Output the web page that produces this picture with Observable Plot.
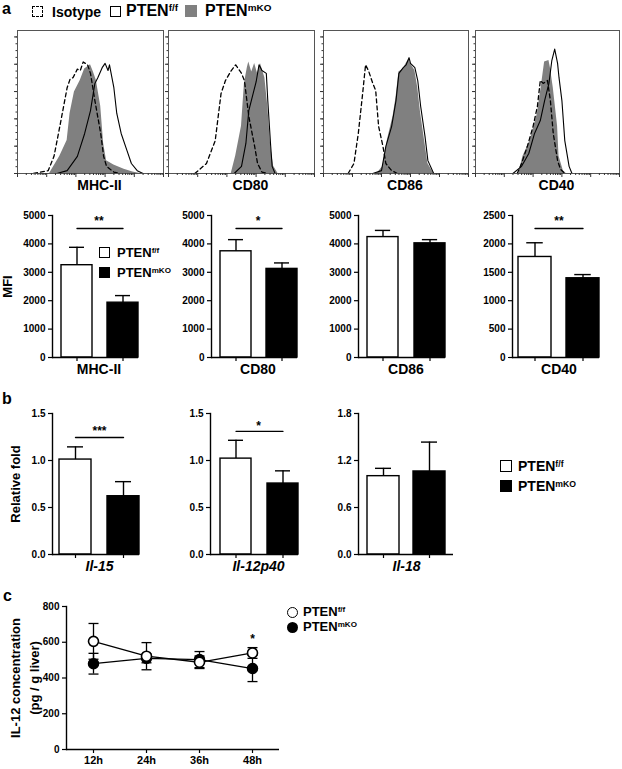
<!DOCTYPE html>
<html><head><meta charset="utf-8">
<script src="https://cdn.jsdelivr.net/npm/d3@7"></script>
<script src="https://cdn.jsdelivr.net/npm/@observablehq/plot@0.6"></script>
<style>
body{margin:0;background:#fff;}
#fig{position:relative;width:622px;height:769px;overflow:hidden;font-family:"Liberation Sans",Arial,Helvetica,sans-serif;font-weight:bold;color:#000;background:#fff;}
.t{position:absolute;white-space:nowrap;line-height:16px;}
.t sup{font-size:0.62em;vertical-align:0.5em;line-height:0;}
.box{position:absolute;box-sizing:border-box;}
</style></head>
<body><div id="fig"></div>
<script>
// ---------- DATA ----------
const groups = ["PTENf/f", "PTENmKO"];

// flow histograms: [position % of axis, height % of panel]
const mhcIso = [[11,0],[21,2],[25,12],[29,33],[34,60],[36,66],[38,67],[41,73],[43,72],[45,78],[48,76],[50,70],[53,51],[57,28],[59,12],[61,5],[66,1],[70,0]];
const mhcFF  = [[27,0],[34,2],[41,12],[46,28],[50,44],[53,63],[55,67],[58,74],[60,77],[62,72],[63,76],[66,60],[68,42],[71,28],[75,16],[78,7],[82,2],[86,0]];
const mhcKO  = [[22,0],[29,12],[34,23],[36,42],[39,57],[43,65],[46,73],[50,76],[52,71],[54,65],[57,47],[59,21],[61,9],[66,6],[73,3],[79,1],[84,0]];
const cd80Iso = [[18,0],[26,7],[32,23],[36,56],[39,65],[43,72],[46,76],[50,70],[52,65],[55,40],[59,19],[61,7],[64,1],[68,0]];
const cd80FF  = [[45,0],[50,5],[53,21],[55,44],[58,56],[60,64],[62,76],[64,72],[67,70],[68,51],[70,19],[71,5],[73,0]];
const cd80KO  = [[43,0],[46,12],[50,33],[52,63],[54,74],[55,78],[57,71],[59,77],[61,70],[63,77],[66,67],[68,47],[70,19],[72,5],[75,0]];
const cd86Iso = [[17,0],[21,7],[24,28],[27,56],[29,76],[31,72],[34,63],[36,58],[38,33],[41,19],[43,7],[47,2],[51,0]];
const cd86FF  = [[34,0],[40,2],[43,19],[47,33],[50,51],[52,70],[55,74],[57,76],[59,81],[60,77],[63,74],[65,65],[67,47],[70,26],[72,9],[76,0]];
const cd86KO  = [[37,0],[41,5],[44,23],[48,40],[50,53],[52,71],[55,73],[57,77],[59,80],[60,77],[63,72],[65,60],[67,42],[70,21],[72,7],[76,0]];
const cd40Iso = [[29,0],[32,7],[36,19],[40,33],[43,47],[45,65],[47,63],[50,65],[52,51],[54,28],[57,9],[59,3],[62,0]];
const cd40FF  = [[26,0],[32,5],[37,14],[41,28],[45,37],[48,51],[51,63],[53,79],[55,87],[57,77],[58,67],[60,51],[62,23],[65,5],[67,0]];
const cd40KO  = [[30,0],[33,12],[38,23],[43,42],[46,63],[48,78],[51,79],[52,74],[54,60],[57,33],[58,12],[61,2],[63,0]];

// panel a bars (MFI)
const mfiMarkers = ["MHC-II", "CD80", "CD86", "CD40"];
const mfiFF    = [3250, 3740, 4240, 1770];
const mfiFFErr = [630, 410, 235, 250];
const mfiKO    = [1930, 3120, 4020, 1395];
const mfiKOErr = [250, 210, 130, 65];
const mfiTicks = [[0,1000,2000,3000,4000,5000],[0,1000,2000,3000,4000,5000],[0,1000,2000,3000,4000,5000],[0,500,1000,1500,2000,2500]];
const mfiSig   = ["**", "*", "", "**"];
const mfiSigY  = [4540, 4540, 0, 2270];

// panel b bars (relative fold)
const genes      = ["Il-15", "Il-12p40", "Il-18"];
const foldFF     = [1.01, 1.02, 1.00];
const foldFFErr  = [0.135, 0.195, 0.10];
const foldKO     = [0.62, 0.755, 1.06];
const foldKOErr  = [0.155, 0.135, 0.375];
const foldTicks  = [[0,0.5,1.0,1.5],[0,0.5,1.0,1.5],[0,0.6,1.2,1.8]];
const foldSig    = ["***", "*", ""];
const foldSigY   = [1.245, 1.31, 0];

// panel c time course
const times      = ["12h", "24h", "36h", "48h"];
const il12FF     = [605, 522, 488, 540];
const il12FFErr  = [100, 76, 35, 30];
const il12KO     = [480, 510, 503, 453];
const il12KOErr  = [58, 25, 45, 73];
const il12Ticks  = [0, 200, 400, 600, 800];
const il12Sig    = [{t: "48h", y: 620, s: "*"}];

// ---------- RENDER ----------
const FONT = '"Liberation Sans", Arial, Helvetica, sans-serif';
const GRAY = "#808080";
const fig = document.getElementById("fig");
function put(node, left, top) {
  node.style.position = "absolute";
  node.style.left = left + "px";
  node.style.top = top + "px";
  fig.appendChild(node);
  return node;
}
function html(str, left, top, css = "") {
  const d = document.createElement("div");
  d.className = "t";
  d.innerHTML = str;
  d.style.cssText += css;
  return put(d, left, top);
}
function box(left, top, w, h, css) {
  const d = document.createElement("div");
  d.className = "box";
  d.style.width = w + "px"; d.style.height = h + "px";
  d.style.cssText += css;
  return put(d, left, top);
}
const baseStyle = {fontFamily: FONT, fontWeight: "bold", fontSize: "10px", overflow: "visible", background: "transparent"};
const xy = {x: d => d[0], y: d => d[1]};

// histogram axes ticks (log decades)
const logMajor = d3.range(0, 6).map(k => 20 * k);
const logMinor = d3.range(0, 5).flatMap(k => d3.range(2, 10).map(m => 20 * (k + Math.log10(m))));
const yMajor = d3.range(0, 100, 19.1);
const yMinor = d3.range(0, 100, 19.1 / 4);

function histo(iso, ff, ko, label, frameLeft, frameWidth) {
  const mL = 6, mT = 1, mB = 26, mR = 2;
  const svg = Plot.plot({
    width: frameWidth + mL + mR, height: mT + 143 + mB,
    marginLeft: mL, marginRight: mR, marginTop: mT, marginBottom: mB,
    x: {domain: [0, 100], label: null}, y: {domain: [0, 100], label: null},
    style: baseStyle,
    marks: [
      Plot.areaY(ko, {...xy, fill: GRAY}),
      Plot.lineY(ff, {...xy, stroke: "black", strokeWidth: 1.1}),
      Plot.lineY(iso, {...xy, stroke: "black", strokeWidth: 1.3, strokeDasharray: "4,3"}),
      Plot.frame({stroke: "#555", strokeWidth: 1}),
      Plot.axisX({ticks: logMajor, tickSize: 4, tickFormat: () => "", label: null, stroke: "#333"}),
      Plot.axisX({ticks: logMinor, tickSize: 2, tickFormat: () => "", label: null, stroke: "#333"}),
      Plot.axisY({ticks: yMajor, tickSize: 3, tickFormat: () => "", label: null, stroke: "#333"}),
      Plot.axisY({ticks: yMinor, tickSize: 1.5, tickFormat: () => "", label: null, stroke: "#333"}),
      Plot.text([label], {frameAnchor: "bottom", dy: 16, dx: 9, fontSize: 14, fontWeight: "bold"})
    ]
  });
  put(svg, frameLeft - mL, 30 - mT);
}

function barChart(o) {
  const W = o.x1 - o.x0;
  const mL = o.x0 - o.svgLeft, mT = 14, mR = 8, mB = 26;
  const offR = W - o.offL - 2 * o.bw - o.gap;
  const step = o.bw + o.gap;
  const align = (o.offL + offR) > 0 ? o.offL / (o.offL + offR) : 0.5;
  const data = groups.map((g, i) => ({g, v: o.vals[i], e: o.errs[i]}));
  const marks = [
    Plot.barY(data.filter(d => d.g === groups[0]), {x: "g", y: "v", fill: "white", stroke: "black", strokeWidth: 1.4}),
    Plot.barY(data.filter(d => d.g === groups[1]), {x: "g", y: "v", fill: "black", stroke: "black", strokeWidth: 1.4}),
    Plot.ruleX(data, {x: "g", y1: "v", y2: d => d.v + d.e, stroke: "black", strokeWidth: 1.4}),
    Plot.tickY(data, {x: "g", y: d => d.v + d.e, insetLeft: o.bw / 4, insetRight: o.bw / 4, stroke: "black", strokeWidth: 1.4}),
    Plot.ruleY([0], {stroke: "black", strokeWidth: 1.4}),
    Plot.frame({anchor: "left", stroke: "black", strokeWidth: 1.4}),
    Plot.axisY({ticks: o.ticks, tickSize: 4, tickPadding: 3, tickFormat: o.fmt, label: null, fontSize: 10, strokeWidth: 1.2}),
    Plot.axisX({tickSize: 4, tickFormat: () => "", label: null, strokeWidth: 1.2}),
    Plot.text([o.label], {frameAnchor: "bottom", dy: 16, dx: (o.offL - offR) / 2, fontSize: 14, fontWeight: "bold", fontStyle: o.italic ? "italic" : "normal"})
  ];
  if (o.sig) {
    marks.push(Plot.lineY(groups.map(g => ({g, y: o.sigY})), {x: "g", y: "y", stroke: "black", strokeWidth: 1.4}));
    marks.push(Plot.text([{s: o.sig, y: o.sigY}], {text: "s", y: "y", dx: (o.offL - offR) / 2, dy: o.sigDy, fontSize: 12, fontWeight: "bold"}));
  }
  if (o.ylabel) {
    marks.push(Plot.text([o.ylabel], {frameAnchor: "left", rotate: -90, dx: o.ylabelX - o.x0, textAnchor: "middle", fontSize: 13, fontWeight: "bold"}));
  }
  const svg = Plot.plot({
    width: mL + W + mR, height: mT + (o.yBot - o.yTop) + mB,
    marginLeft: mL, marginRight: mR, marginTop: mT, marginBottom: mB,
    x: {domain: groups, paddingInner: o.gap / step, paddingOuter: Math.max(0, (W - 2 * o.bw - o.gap) / (2 * step)), align, label: null},
    y: {domain: [0, o.max], label: null},
    style: baseStyle,
    marks
  });
  put(svg, o.svgLeft, o.yTop - mT);
}

// ----- panel a -----
html("a", 2, 1, "font-size:16px;");
box(32, 6, 11, 11, "border:1.5px dashed #000;");
html("Isotype", 52, 4, "font-size:14px;");
box(110, 6, 11, 11, "border:1.6px solid #000;background:#fff;");
html("PTEN<sup>f/f</sup>", 126, 3, "font-size:16px;");
box(185, 5, 12, 12, "background:" + GRAY + ";");
html("PTEN<sup>mKO</sup>", 205, 3, "font-size:16px;");

histo(mhcIso, mhcFF, mhcKO, mfiMarkers[0], 17, 146);
histo(cd80Iso, cd80FF, cd80KO, mfiMarkers[1], 168, 146);
histo(cd86Iso, cd86FF, cd86KO, mfiMarkers[2], 323, 145);
histo(cd40Iso, cd40FF, cd40KO, mfiMarkers[3], 475, 144);

const aLayout = [
  {svgLeft: 0, x0: 52, x1: 138, offL: 7, bw: 32, gap: 15},
  {svgLeft: 160, x0: 211, x1: 297, offL: 7, bw: 32, gap: 15},
  {svgLeft: 310, x0: 358, x1: 445, offL: 8, bw: 31.5, gap: 16},
  {svgLeft: 465, x0: 512, x1: 599, offL: 6, bw: 33, gap: 15}
];
mfiMarkers.forEach((m, i) => barChart({
  ...aLayout[i], yTop: 215, yBot: 357,
  max: mfiTicks[i][mfiTicks[i].length - 1], ticks: mfiTicks[i], fmt: d => String(d),
  vals: [mfiFF[i], mfiKO[i]], errs: [mfiFFErr[i], mfiKOErr[i]],
  label: m, sig: mfiSig[i], sigY: mfiSigY[i], sigDy: -7,
  ylabel: i === 0 ? "MFI" : null, ylabelX: 7
}));
box(99, 247, 11, 11, "border:1.5px solid #000;background:#fff;");
html("PTEN<sup>f/f</sup>", 117, 245, "font-size:13px;");
box(99, 267, 11, 11, "background:#000;");
html("PTEN<sup>mKO</sup>", 117, 265, "font-size:13px;");

// ----- panel b -----
html("b", 2, 391, "font-size:16px;");
const bLayout = [
  {svgLeft: 0, x0: 52, x1: 139, offL: 7, bw: 32, gap: 16, sigDy: -6},
  {svgLeft: 160, x0: 210, x1: 298, offL: 8, bw: 32, gap: 16, sigDy: -5},
  {svgLeft: 310, x0: 358, x1: 453, offL: 9, bw: 32, gap: 14, sigDy: -5}
];
genes.forEach((g, i) => barChart({
  ...bLayout[i], yTop: 413, yBot: 554,
  max: foldTicks[i][foldTicks[i].length - 1], ticks: foldTicks[i], fmt: d => d.toFixed(1),
  vals: [foldFF[i], foldKO[i]], errs: [foldFFErr[i], foldKOErr[i]],
  label: g, italic: true, sig: foldSig[i], sigY: foldSigY[i],
  ylabel: i === 0 ? "Relative fold" : null, ylabelX: 15
}));
box(500, 460, 12, 12, "border:1.5px solid #000;background:#fff;");
html("PTEN<sup>f/f</sup>", 518, 458, "font-size:14px;");
box(500, 480, 12, 12, "background:#000;");
html("PTEN<sup>mKO</sup>", 518, 478, "font-size:14px;");

// ----- panel c -----
html("c", 3, 588, "font-size:16px;");
{
  const ff = times.map((t, i) => ({t, v: il12FF[i], e: il12FFErr[i]}));
  const ko = times.map((t, i) => ({t, v: il12KO[i], e: il12KOErr[i]}));
  const both = ff.concat(ko);
  const cap = {draw(ctx) { ctx.moveTo(-5, 0); ctx.lineTo(5, 0); }};
  const mL = 66, mT = 20, mR = 10, mB = 20, x1 = 279;
  const svg = Plot.plot({
    width: x1 + mR, height: mT + 143 + mB,
    marginLeft: mL, marginRight: mR, marginTop: mT, marginBottom: mB,
    x: {type: "point", domain: times, padding: 0.485, label: null},
    y: {domain: [0, 800], label: null},
    style: baseStyle,
    marks: [
      Plot.ruleY([0], {stroke: "black", strokeWidth: 1.4}),
      Plot.frame({anchor: "left", stroke: "black", strokeWidth: 1.4}),
      Plot.axisY({ticks: il12Ticks, tickSize: 4, tickPadding: 3, tickFormat: d => String(d), label: null, fontSize: 10, strokeWidth: 1.2}),
      Plot.axisX({tickSize: 4, tickPadding: 3, label: null, fontSize: 11, strokeWidth: 1.2}),
      Plot.ruleX(both, {x: "t", y1: d => d.v - d.e, y2: d => d.v + d.e, stroke: "black", strokeWidth: 1.3}),
      Plot.dot(both, {x: "t", y: d => d.v + d.e, symbol: cap, stroke: "black", fill: "none", strokeWidth: 1.3}),
      Plot.dot(both, {x: "t", y: d => d.v - d.e, symbol: cap, stroke: "black", fill: "none", strokeWidth: 1.3}),
      Plot.line(ff, {x: "t", y: "v", stroke: "black", strokeWidth: 1.3}),
      Plot.line(ko, {x: "t", y: "v", stroke: "black", strokeWidth: 1.3}),
      Plot.dot(ko, {x: "t", y: "v", r: 5, fill: "black", stroke: "black"}),
      Plot.dot(ff, {x: "t", y: "v", r: 5, fill: "white", stroke: "black", strokeWidth: 1.6}),
      Plot.text(il12Sig, {x: "t", y: "y", text: "s", fontSize: 12}),
      Plot.text(["IL-12 concentration"], {frameAnchor: "left", rotate: -90, dx: 15 - mL, textAnchor: "middle", fontSize: 13}),
      Plot.text(["(pg / g liver)"], {frameAnchor: "left", rotate: -90, dx: 34 - mL, textAnchor: "middle", fontSize: 13})
    ]
  });
  put(svg, 0, 606 - mT);
}
box(287, 607, 11, 11, "border:1.6px solid #000;border-radius:50%;background:#fff;");
html("PTEN<sup>f/f</sup>", 303, 604, "font-size:13px;");
box(287, 622, 11, 11, "border-radius:50%;background:#000;");
html("PTEN<sup>mKO</sup>", 303, 619, "font-size:13px;");
</script>
</body></html>
